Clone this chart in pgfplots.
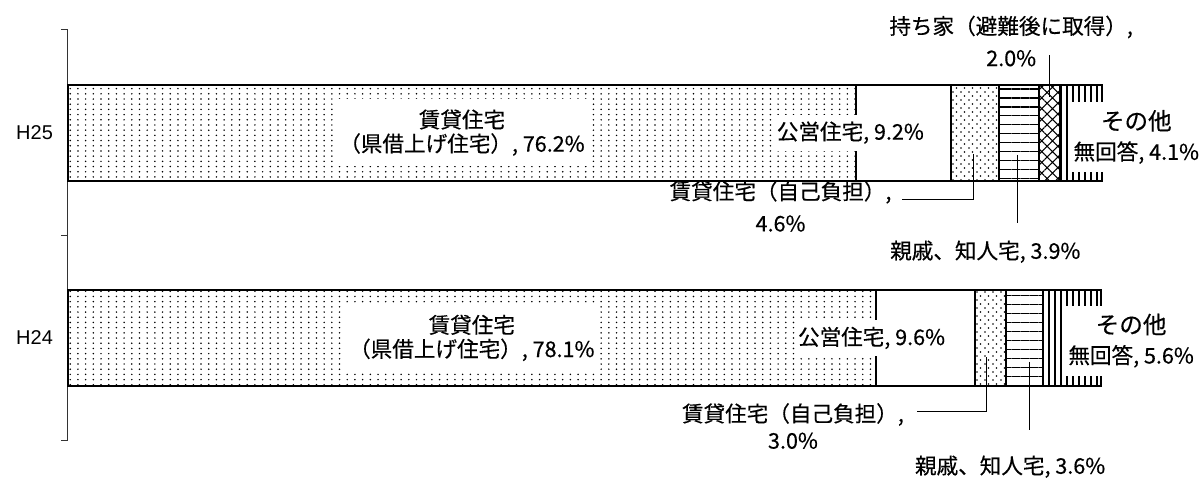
\documentclass[border=0pt]{standalone}
\usepackage{pgfplots}
\pgfplotsset{compat=1.18}
\usepackage{fontspec}
\setmainfont{Noto Sans CJK JP}[FakeBold=0.4]
\newfontfamily\lsans{Liberation Sans}
\usetikzlibrary{patterns.meta}

\pgfdeclarepatternformonly{refdots}{\pgfpoint{0pt}{0pt}}{\pgfpoint{1pt}{1pt}}{\pgfpoint{3.85pt}{2.6pt}}{%
  \pgfpathcircle{\pgfpoint{0.5pt}{0.5pt}}{0.42pt}\pgfusepath{fill}}
\pgfdeclarepatternformonly{staggerdots}{\pgfpoint{0pt}{0pt}}{\pgfpoint{3.75pt}{4pt}}{\pgfpoint{3.75pt}{4pt}}{%
  \pgfpathcircle{\pgfpoint{0.5pt}{0.5pt}}{0.45pt}\pgfusepath{fill}%
  \pgfpathcircle{\pgfpoint{2.375pt}{2.5pt}}{0.45pt}\pgfusepath{fill}}

\newcommand{\tl}[1]{\lsans\fontsize{10}{12}\selectfont #1}

\begin{document}
\begin{tikzpicture}
\begin{axis}[
  scale only axis, width=517.5pt, height=205.5pt,
  xmin=0, xmax=100, ymin=-0.5, ymax=1.5,
  axis x line=none, axis y line*=left,
  axis line style={black!80, line width=0.5pt},
  ytick={0,1}, yticklabels={{\tl{H24}},{\tl{H25}}},
  major tick length=0pt,
  minor ytick={-0.5,0.5,1.5}, minor tick length=3.5pt,
  tick align=outside,
  tick style={black!80, line width=0.5pt},
  yticklabel style={font=\lsans\fontsize{10}{12}\selectfont, xshift=-4pt},
  xbar stacked, bar width=48pt,
  clip=false,
]
% 賃貸住宅（県借上げ住宅）
\addplot[draw=black, line width=1pt, pattern=refdots, pattern color=black]
  coordinates {(78.1,0) (76.2,1)};
% 公営住宅
\addplot[draw=black, line width=1pt, fill=white]
  coordinates {(9.6,0) (9.2,1)};
% 賃貸住宅（自己負担）
\addplot[draw=black, line width=1pt, pattern=staggerdots, pattern color=black]
  coordinates {(3.0,0) (4.6,1)};
% 親戚、知人宅
\addplot[draw=black, line width=1pt, pattern={Lines[angle=0, distance=4.5pt, line width=0.7pt]}, pattern color=black]
  coordinates {(3.6,0) (3.9,1)};
% 持ち家（避難後に取得）
\addplot[draw=black, line width=1pt, pattern={Hatch[angle=45, distance=3.8pt, line width=0.5pt]}, pattern color=black]
  coordinates {(0,0) (2.0,1)};
% その他・無回答
\addplot[draw=black, line width=1pt, pattern={Lines[angle=90, distance=3pt, line width=0.8pt]}, pattern color=black]
  coordinates {(5.6,0) (4.1,1)};

% anchor coordinates for annotations
\coordinate (A1) at (axis cs:38.1,1);
\coordinate (A0) at (axis cs:39.05,0);
\coordinate (K1) at (axis cs:75.65,1);
\coordinate (K0) at (axis cs:77.7,0);
\coordinate (S1) at (axis cs:103.3,0.979);
\coordinate (S0) at (axis cs:102.8,-0.013);
\coordinate (J1) at (axis cs:68.9,0.641);
\coordinate (J1a) at (axis cs:80.68,0.673);
\coordinate (J1b) at (axis cs:87.54,0.673);
\coordinate (J1c) at (axis cs:87.54,0.897);
\coordinate (J0) at (axis cs:70.1,-0.429);
\coordinate (J0a) at (axis cs:82.1,-0.359);
\coordinate (J0b) at (axis cs:88.8,-0.359);
\coordinate (J0c) at (axis cs:88.8,-0.091);
\coordinate (R1) at (axis cs:88.7,0.420);
\coordinate (R1a) at (axis cs:91.8,0.892);
\coordinate (R1b) at (axis cs:91.8,0.561);
\coordinate (R0) at (axis cs:91.1,-0.627);
\coordinate (R0a) at (axis cs:92.95,-0.116);
\coordinate (R0b) at (axis cs:92.95,-0.446);
\coordinate (M1) at (axis cs:91.2,1.446);
\coordinate (M1a) at (axis cs:94.9,1.378);
\coordinate (M1b) at (axis cs:94.9,1.174);
\coordinate (BBa) at (axis cs:-6.57,-0.670);
\coordinate (BBb) at (axis cs:109.57,1.646);
\end{axis}

\tikzset{lab/.style={font=\fontsize{10.8}{12}\selectfont}}
% 賃貸住宅（県借上げ住宅）
\node[fill=white, align=center, inner xsep=3pt, inner ysep=5pt, font=\fontsize{10.8}{12}\selectfont]
  at (A1) {賃貸住宅\\（県借上げ住宅）, 76.2\%};
\node[fill=white, align=center, inner xsep=3pt, inner ysep=5pt, font=\fontsize{10.8}{12}\selectfont]
  at (A0) {賃貸住宅\\（県借上げ住宅）, 78.1\%};
% 公営住宅
\node[lab, fill=white, inner xsep=1pt, inner ysep=3.5pt] at (K1) {公営住宅, 9.2\%};
\node[lab, fill=white, inner xsep=1pt, inner ysep=3.5pt] at (K0) {公営住宅, 9.6\%};
% その他・無回答
\node[fill=white, align=center, inner xsep=1.5pt, inner ysep=4pt, font=\fontsize{10.8}{15}\selectfont]
  at (S1) {{\fontsize{11.8}{15}\selectfont その他}\\無回答, 4.1\%};
\node[fill=white, align=center, inner xsep=1.5pt, inner ysep=4pt, font=\fontsize{10.8}{15}\selectfont]
  at (S0) {{\fontsize{11.8}{15}\selectfont その他}\\無回答, 5.6\%};
% 賃貸住宅（自己負担）
\node[align=center, font=\fontsize{10.8}{16}\selectfont] at (J1) {賃貸住宅（自己負担）,\\4.6\%};
\draw[black, line width=0.6pt] (J1a) -- (J1b) -- (J1c);
\node[align=center, font=\fontsize{10.8}{13.5}\selectfont] at (J0) {賃貸住宅（自己負担）,\\3.0\%};
\draw[black, line width=0.6pt] (J0a) -- (J0b) -- (J0c);
% 親戚、知人宅
\node[lab] at (R1) {親戚、知人宅, 3.9\%};
\draw[black, line width=0.6pt] (R1a) -- (R1b);
\node[lab] at (R0) {親戚、知人宅, 3.6\%};
\draw[black, line width=0.6pt] (R0a) -- (R0b);
% 持ち家（避難後に取得）
\node[align=center, font=\fontsize{10.8}{16}\selectfont] at (M1) {持ち家（避難後に取得）,\\2.0\%};
\draw[black, line width=0.6pt] (M1a) -- (M1b);
% page extent
\path[use as bounding box] (BBa) rectangle (BBb);
\end{tikzpicture}
\end{document}
